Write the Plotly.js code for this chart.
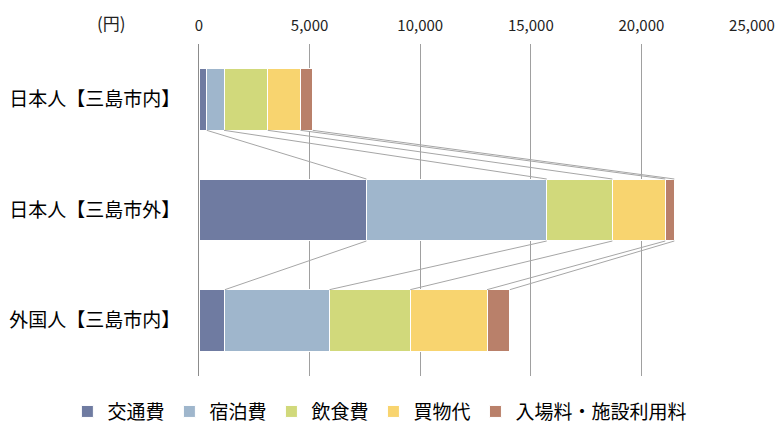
<!DOCTYPE html>
<html>
<head>
<meta charset="utf-8">
<script src="https://cdn.plot.ly/plotly-3.0.1.min.js"></script>
<style>html,body{margin:0;padding:0;background:#fff;}#chart{width:777px;height:423px;}</style>
</head>
<body>
<div id="chart"></div>
<script>
const categories = ["日本人【三島市内】", "日本人【三島市外】", "外国人【三島市内】"];
const seriesNames = ["交通費", "宿泊費", "飲食費", "買物代", "入場料・施設利用料"];
const transport = [350, 7570, 1170];
const lodging = [780, 8150, 4730];
const food = [1980, 2970, 3650];
const shopping = [1480, 2390, 3470];
const admission = [550, 410, 1030];
const xTicks = [0, 5000, 10000, 15000, 20000, 25000];
const colors = ["#6f7ba1", "#9fb6cc", "#d1d97b", "#f8d46f", "#b9806a"];

const series = [transport, lodging, food, shopping, admission];
const yPos = categories.map((c, i) => i);
const barW = 0.56;

const traces = [];
const cum = categories.map((c, i) => {
  let s = 0; return series.map(arr => (s += arr[i]));
});
for (let k = 0; k < series.length; k++) {
  const xs = [], ys = [];
  for (let i = 0; i < categories.length - 1; i++) {
    xs.push(cum[i][k], cum[i + 1][k], null);
    ys.push(yPos[i] + barW / 2, yPos[i + 1] - barW / 2, null);
  }
  traces.push({type: "scatter", mode: "lines", x: xs, y: ys, showlegend: false,
    hoverinfo: "skip", line: {color: "#a6a6a6", width: 1}});
}
series.forEach((arr, k) => {
  traces.push({type: "bar", orientation: "h", name: seriesNames[k], x: arr, y: yPos,
    width: barW, marker: {color: colors[k], line: {color: "#ffffff", width: 1}}});
});

const layout = {
  width: 777, height: 423,
  margin: {l: 199, r: 25, t: 44, b: 47, autoexpand: false},
  barmode: "stack",
  paper_bgcolor: "#fff", plot_bgcolor: "#fff",
  font: {family: "Noto Sans CJK JP, sans-serif", color: "#111"},
  xaxis: {side: "top", range: [0, 25000], tickvals: xTicks,
    ticktext: xTicks.map(v => v.toLocaleString("en-US")),
    showgrid: true, gridcolor: "#a0a0a0", gridwidth: 1, zeroline: false,
    showline: false, ticks: "", ticklabelstandoff: 9, ticklabeloverflow: "allow",
    tickfont: {size: 15, color: "#222"}, fixedrange: true},
  yaxis: {range: [2.5, -0.5], tickvals: yPos, ticktext: categories,
    showgrid: false, zeroline: false, showline: true, linecolor: "#8c8c8c", linewidth: 1,
    ticks: "", ticklabelstandoff: 14, tickfont: {size: 19, color: "#000"}},
  showlegend: true,
  legend: {orientation: "h", x: -0.238, xanchor: "left",
    y: -0.05, yanchor: "top", font: {size: 19, color: "#000"}, traceorder: "normal",
    itemwidth: 30},
  annotations: [{text: "(円)", xref: "paper", yref: "paper", x: -0.158, y: 1.0,
    yshift: 22, xanchor: "center", yanchor: "middle", showarrow: false,
    font: {size: 17, color: "#222"}}]
};
Plotly.newPlot("chart", traces, layout, {displayModeBar: false, staticPlot: true});
</script>
</body>
</html>
